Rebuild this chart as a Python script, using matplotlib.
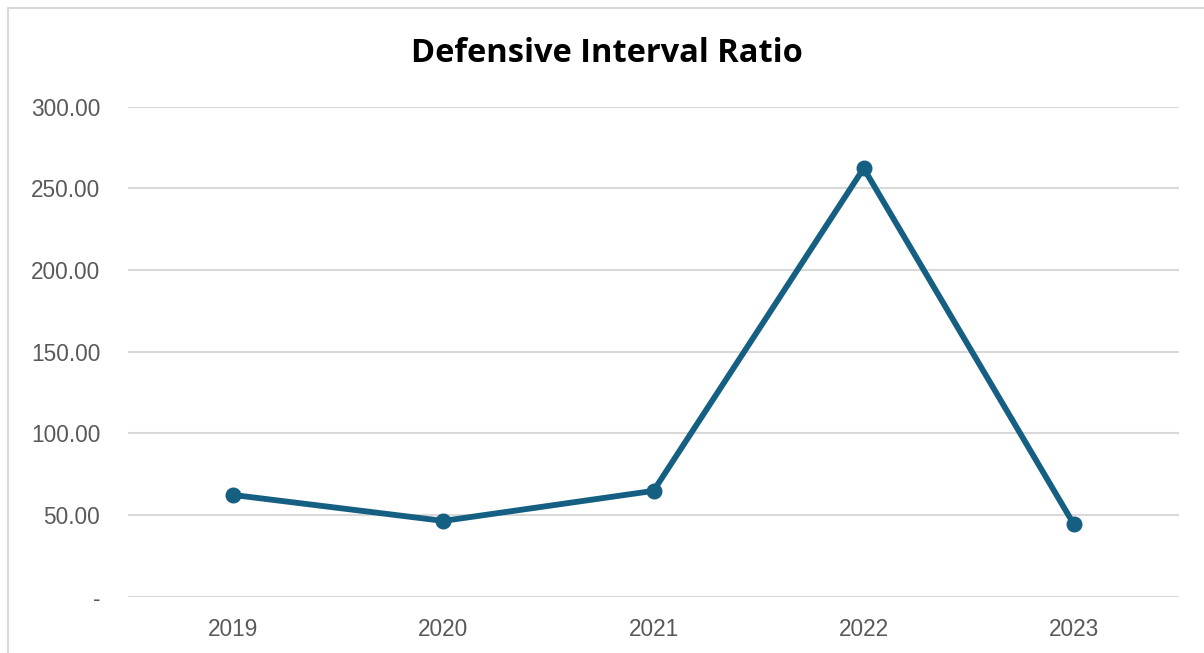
import matplotlib
matplotlib.use("Agg")
import matplotlib.pyplot as plt
from matplotlib.patches import Rectangle

years = ["2019", "2020", "2021", "2022", "2023"]
ratio = [62.3, 46.4, 64.8, 262.3, 44.3]
yticks = [0, 50, 100, 150, 200, 250, 300]
ytick_labels = ["-", "50.00", "100.00", "150.00", "200.00", "250.00", "300.00"]
title = "Defensive Interval Ratio"

line_color = "#156082"
grid_color = "#D9D9D9"
text_color = "#595959"

plt.rcParams['font.family'] = ['Liberation Sans', 'DejaVu Sans']

fig = plt.figure(figsize=(12.04, 6.53), dpi=100)
W, H = 1204, 653
# outer border
fig.patches.append(Rectangle((8 / W, -0.1), 1.2, (H - 8) / H + 0.1, transform=fig.transFigure,
                             fill=False, edgecolor="#D9D9D9", linewidth=1.5))

ax = fig.add_axes([128 / W, (H - 596.7) / H, (1179 - 128) / W, (596.7 - 106.7) / H])
x = list(range(len(years)))
ax.plot(x, ratio, color=line_color, linewidth=4.2, marker="o", markersize=10.5,
        solid_capstyle="round", zorder=3)
ax.set_xlim(-0.5, len(years) - 0.5)
ax.set_ylim(0, 300)
ax.set_yticks(yticks)
ax.set_yticklabels(ytick_labels)
ax.set_xticks(x)
ax.set_xticklabels(years)
ax.tick_params(axis="both", length=0, labelsize=16.3, colors=text_color)
ax.tick_params(axis="y", pad=20)
ax.tick_params(axis="x", pad=15)
ax.grid(axis="y", color=grid_color, linewidth=1.5)
ax.set_axisbelow(True)
for s in ax.spines.values():
    s.set_visible(False)

fig.text(0.5043, 1 - 62 / H, title, ha="center", va="baseline", fontsize=23.5,
         fontweight="bold", color="black", family=["Open Sans", "DejaVu Sans"])

fig.savefig("out.png", dpi=100, facecolor="white")
